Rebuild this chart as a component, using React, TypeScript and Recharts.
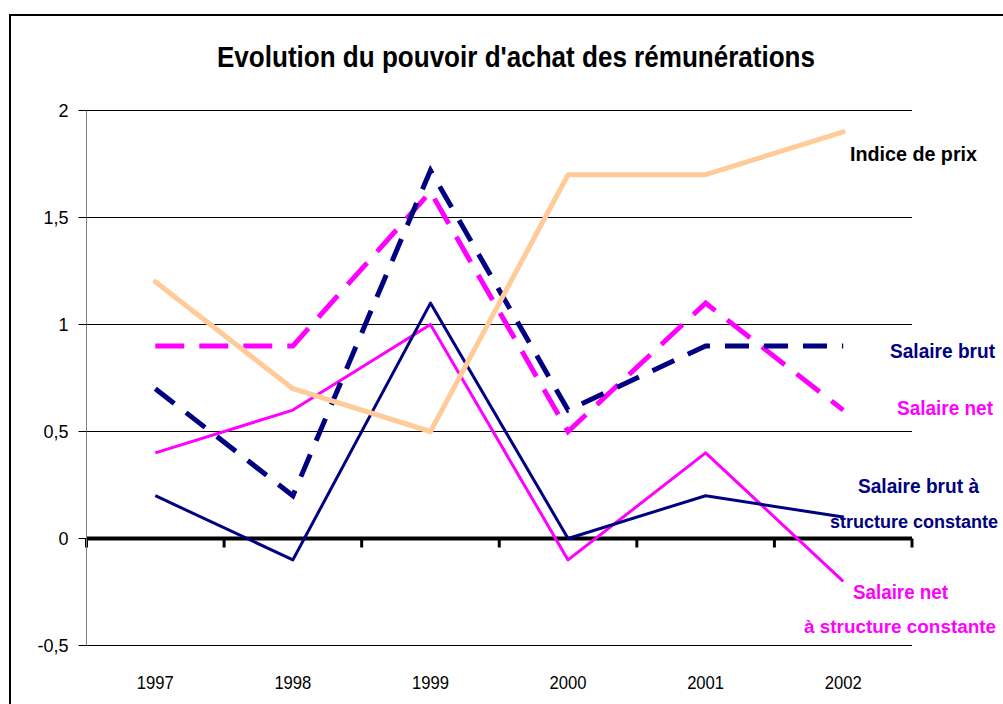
import React from "react";
import {
  CartesianGrid,
  Line,
  LineChart,
  ReferenceLine,
  XAxis,
  YAxis,
} from "recharts";

const years = ["1997", "1998", "1999", "2000", "2001", "2002"];
const salaireBrut = [0.7, 0.2, 1.72, 0.6, 0.9, 0.9];
const salaireNet = [0.9, 0.9, 1.62, 0.5, 1.1, 0.6];
const brutStructure = [0.2, -0.1, 1.1, 0.0, 0.2, 0.1];
const netStructure = [0.4, 0.6, 1.0, -0.1, 0.4, -0.2];
const indicePrix = [1.2, 0.7, 0.5, 1.7, 1.7, 1.9];
const yTicks = [-0.5, 0, 0.5, 1, 1.5, 2];

const data = years.map((year, i) => ({
  year,
  brut: salaireBrut[i],
  net: salaireNet[i],
  brutSc: brutStructure[i],
  netSc: netStructure[i],
  prix: indicePrix[i],
}));

const NAVY = "#000080";
const MAGENTA = "#FF00FF";
const ORANGE = "#FFCC99";
const FONT = "'Liberation Sans', Arial, sans-serif";

// zero line with Excel-style tick marks between categories
function ZeroAxis(props: any) {
  const { x1, x2, y1 } = props;
  const step = (x2 - x1) / years.length;
  const marks = [];
  for (let i = 0; i <= years.length; i++) {
    const x = x1 + step * i;
    marks.push(<line key={i} x1={x} x2={x} y1={y1} y2={y1 + 9} stroke="#000" strokeWidth={3} />);
  }
  return (
    <g>
      <line x1={x1} x2={x2} y1={y1} y2={y1} stroke="#000" strokeWidth={4} />
      {marks}
    </g>
  );
}

// narrow-looking year labels
function YearTick(props: any) {
  const { x, y, payload } = props;
  return (
    <text x={x} y={y} dy="0.71em" textAnchor="middle" fontFamily={FONT} fontSize={19} fill="#000"
      textLength={37} lengthAdjust="spacingAndGlyphs">
      {payload.value}
    </text>
  );
}

function Label({ x, y, w, color, size = 20, children }: any) {
  return (
    <text x={x} y={y} fontFamily={FONT} fontSize={size} fontWeight={700} fill={color}
      textLength={w} lengthAdjust="spacingAndGlyphs">
      {children}
    </text>
  );
}

export default function App() {
  return (
    <div style={{ position: "absolute", left: 0, top: 0, width: 1003, height: 704, overflow: "hidden", background: "#fff" }}>
      <div
        style={{
          position: "absolute",
          left: 9,
          top: 14,
          width: 1100,
          height: 800,
          border: "2px solid #000",
        }}
      />
      <div style={{ position: "absolute", left: 0, top: 0 }}>
        <LineChart
          width={1003}
          height={704}
          data={data}
          margin={{ top: 110.5, right: 91, bottom: 0.5, left: 0.5 }}
        >
          <CartesianGrid horizontal vertical={false} stroke="#000" strokeWidth={1} />
          <XAxis
            dataKey="year"
            scale="band"
            height={58}
            axisLine={false}
            tickLine={false}
            tickSize={0}
            tickMargin={30}
            tick={<YearTick />}
          />
          <YAxis
            width={86}
            domain={[-0.5, 2]}
            ticks={yTicks}
            interval={0}
            axisLine={{ stroke: "#808080", strokeWidth: 1 }}
            tickLine={{ stroke: "#000", strokeWidth: 1 }}
            tickSize={8}
            tickMargin={10}
            tickFormatter={(v: number) => String(v).replace(".", ",")}
            tick={{ fill: "#000", fontSize: 18, fontFamily: FONT }}
          />
          <ReferenceLine y={0} shape={ZeroAxis} />
          <Line dataKey="netSc" stroke={MAGENTA} strokeWidth={3} dot={false} isAnimationActive={false} strokeLinejoin="round" />
          <Line dataKey="brutSc" stroke={NAVY} strokeWidth={3} dot={false} isAnimationActive={false} strokeLinejoin="round" />
          <Line dataKey="net" stroke={MAGENTA} strokeWidth={5} strokeDasharray="29 15" dot={false} isAnimationActive={false} />
          <Line dataKey="brut" stroke={NAVY} strokeWidth={5} strokeDasharray="24 15" dot={false} isAnimationActive={false} />
          <Line dataKey="prix" stroke={ORANGE} strokeWidth={5} dot={false} isAnimationActive={false} strokeLinejoin="round" strokeLinecap="round" />
        </LineChart>
      </div>
      <svg width={1003} height={704} style={{ position: "absolute", left: 0, top: 0, pointerEvents: "none" }}>
        <text x={516} y={67} textAnchor="middle" fontFamily={FONT} fontSize={30} fontWeight={700} fill="#000"
          textLength={598} lengthAdjust="spacingAndGlyphs">
          Evolution du pouvoir d'achat des rémunérations
        </text>
        <Label x={850} y={161} w={127} color="#000">Indice de prix</Label>
        <Label x={890} y={358} w={105} color={NAVY}>Salaire brut</Label>
        <Label x={897} y={415} w={96} color={MAGENTA}>Salaire net</Label>
        <Label x={858} y={493} w={121} color={NAVY}>Salaire brut à</Label>
        <Label x={830} y={528} w={168} size={18} color={NAVY}>structure constante</Label>
        <Label x={853} y={599} w={95} color={MAGENTA}>Salaire net</Label>
        <Label x={804} y={633} w={192} size={18} color={MAGENTA}>à structure constante</Label>
      </svg>
    </div>
  );
}
